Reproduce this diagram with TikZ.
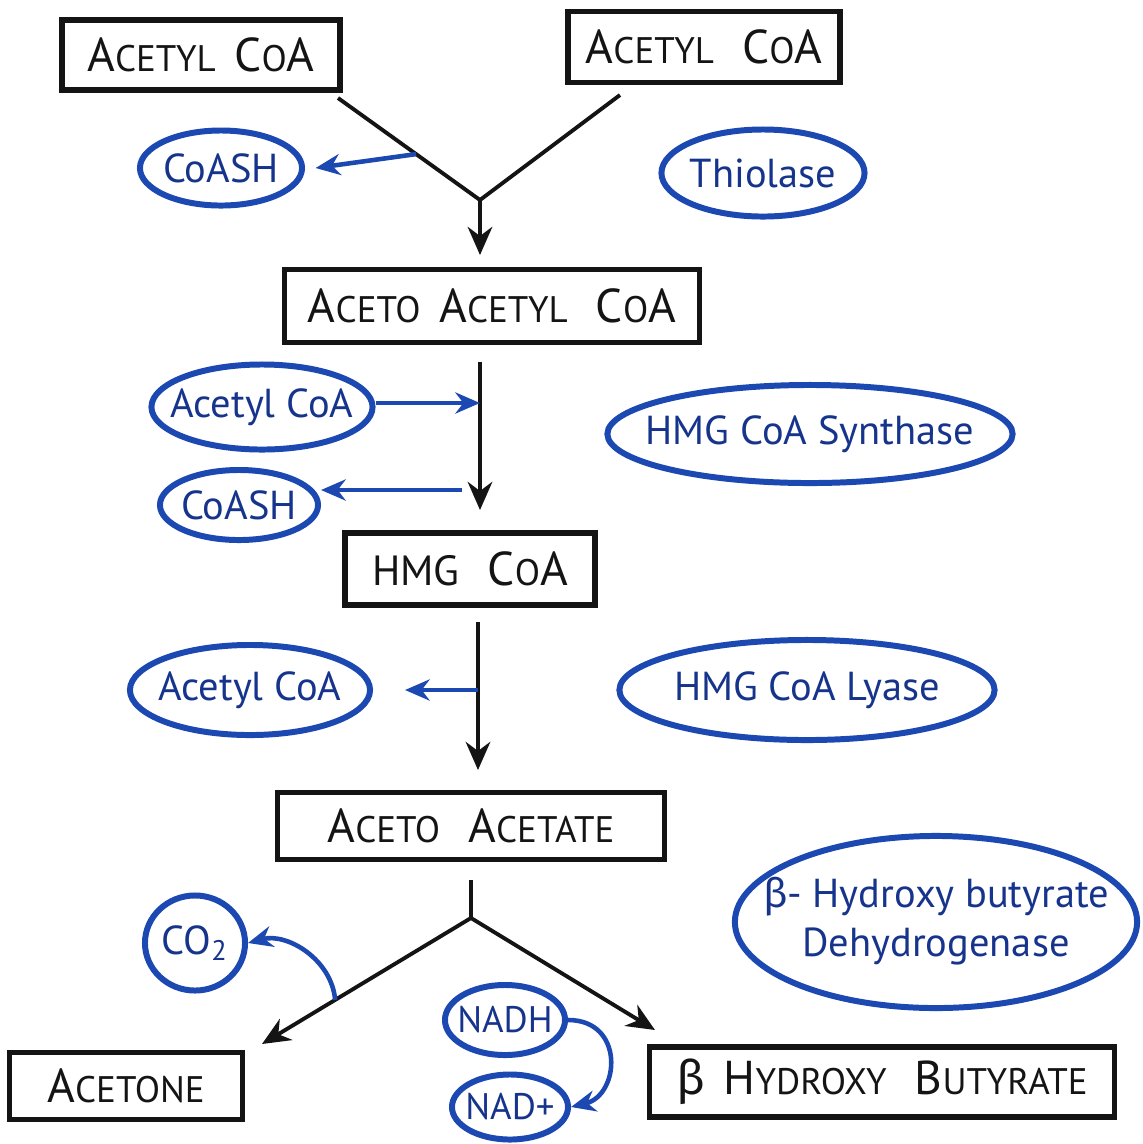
\documentclass[tikz,border=0pt]{standalone}
\usepackage{fontspec}
\setmainfont{PT Sans}
\newfontfamily\grkfont{Fira Sans}
\usetikzlibrary{shapes.geometric,arrows.meta,calc}
\definecolor{inkblue}{RGB}{28,72,178}
\definecolor{txtblue}{RGB}{22,52,140}
\definecolor{inkblack}{RGB}{20,20,20}
% small-caps style lettering: large initial, smaller rest
\newcommand{\Bg}[1]{{\fontsize{13.5}{14}\selectfont #1}}
\newcommand{\Sm}[1]{{\fontsize{10.5}{12}\selectfont #1}}
\newcommand{\Md}[1]{{\fontsize{12}{12}\selectfont #1}}
% zero-width label so the ellipse keeps its given size
\newcommand{\mb}[1]{\makebox[0pt]{#1}}
\begin{document}
\begin{tikzpicture}[x=0.01cm,y=-0.01cm,
  box/.style={draw=inkblack,line width=1.5pt,rectangle,inner sep=0pt,text=inkblack},
  enz/.style={draw=inkblue,line width=1.7pt,ellipse,inner sep=0pt,text=txtblue,
    font=\fontsize{11.5}{14}\selectfont,align=center},
  small/.style={font=\fontsize{10.5}{12}\selectfont},
  flow/.style={draw=inkblack,line width=1.1pt,-{Stealth[length=8pt,width=7pt]}},
  leg/.style={draw=inkblack,line width=1.1pt},
  side/.style={draw=inkblue,line width=1.3pt,-{Stealth[length=7pt,width=6pt]}}]
\useasboundingbox[fill=white] (0,0) rectangle (1143,1144);

% metabolites
\node[box,minimum width=2.78cm,minimum height=0.70cm] (acA) at (201,55)
  {\Bg{A}\Sm{CETYL}\ \ \Bg{C}\Sm{O}\Bg{A}};
\node[box,minimum width=2.72cm,minimum height=0.71cm] (acB) at (704,47)
  {\Bg{A}\Sm{CETYL}\ \ \ \Bg{C}\Sm{O}\Bg{A}};
\node[box,minimum width=4.15cm,minimum height=0.73cm] (aac) at (492,306)
  {\Bg{A}\Sm{CETO}\ \ \Bg{A}\Sm{CETYL}\ \ \ \Bg{C}\Sm{O}\Bg{A}};
\node[box,minimum width=2.50cm,minimum height=0.72cm] (hmg) at (470,569)
  {\Md{HMG}\ \ \ \Bg{C}\Sm{O}\Bg{A}};
\node[box,minimum width=3.87cm,minimum height=0.67cm] (aa) at (471,826)
  {\Bg{A}\Sm{CETO}\ \ \ \Bg{A}\Sm{CETATE}};
\node[box,minimum width=2.33cm,minimum height=0.67cm] (acetone) at (126,1086)
  {\Bg{A}\Sm{CETONE}};
\node[box,minimum width=4.65cm,minimum height=0.70cm] (bhb) at (882,1082)
  {\Bg{\grkfont β}\ \ \Bg{H}\Sm{YDROXY}\ \ \ \Bg{B}\Sm{UTYRATE}};

% cofactors and enzymes
\node[enz,minimum width=1.62cm,minimum height=0.75cm] (coashA) at (221,168) {\mb{CoASH}};
\node[enz,minimum width=2.03cm,minimum height=0.87cm] (thio) at (763,173) {\mb{Thiolase}};
\node[enz,minimum width=2.21cm,minimum height=0.85cm] (acoaB) at (262,407) {\mb{Acetyl CoA}};
\node[enz,minimum width=4.05cm,minimum height=0.98cm] (synth) at (810,434) {\mb{HMG CoA Synthase}};
\node[enz,minimum width=1.58cm,minimum height=0.70cm] (coashB) at (239,505) {\mb{CoASH}};
\node[enz,minimum width=2.40cm,minimum height=0.90cm] (acoaC) at (250,690) {\mb{Acetyl CoA}};
\node[enz,minimum width=3.75cm,minimum height=1.00cm] (lyase) at (807,690) {\mb{HMG CoA Lyase}};
\node[enz,minimum width=4.02cm,minimum height=1.72cm] (dehyd) at (936,922)
  {\mb{\begin{tabular}{@{}c@{}}{\grkfont β}- Hydroxy butyrate\\Dehydrogenase\end{tabular}}};
\node[enz,minimum width=1.00cm,minimum height=0.95cm] (co2) at (195,943) {\mb{CO\textsubscript{2}}};
\node[enz,small,minimum width=1.20cm,minimum height=0.70cm] (nadh) at (505,1020) {\mb{NADH}};
\node[enz,small,minimum width=1.16cm,minimum height=0.65cm] (nadp) at (510,1107) {\mb{NAD+}};

% thiolase step: two acetyl CoA join
\coordinate (lA) at (338,98);
\coordinate (lB) at (620,95);
\coordinate (j1) at (480,200);
\coordinate (e1) at (480,255);
\draw[leg] (lA) -- (j1) -- (lB);
\draw[flow] (j1) -- (e1);
\coordinate (k1) at ($(lA)!0.55!(j1)$);
\draw[side] (k1) -- ([xshift=3pt]coashA.east);

% HMG CoA synthase step
\coordinate (s2) at (480,362);
\coordinate (e2) at (480,510);
\draw[flow] (s2) -- (e2);
\coordinate (k2) at (480,403);
\draw[side] (acoaB.east |- k2) -- (k2);
\coordinate (k3) at (462,490);
\draw[side] (k3) -- (coashB.east |- k3);

% HMG CoA lyase step
\coordinate (s3) at (478,622);
\coordinate (e3) at (478,770);
\draw[flow] (s3) -- (e3);
\coordinate (k4) at (478,690);
\coordinate (k5) at (405,690);
\draw[side] (k4) -- (k5);

% branch to acetone and beta-hydroxybutyrate
\coordinate (s4) at (471,880);
\coordinate (j4) at (471,918);
\coordinate (e4) at (262,1044);
\coordinate (e5) at (655,1030);
\draw[leg] (s4) -- (j4);
\draw[flow] (j4) -- (e4);
\draw[flow] (j4) -- (e5);
\coordinate (k6) at ($(j4)!0.65!(e4)$);
\draw[side] (k6) to[out=95,in=15] (co2.east);
\draw[side] (nadh.east) .. controls (625,1020) and (620,1095) .. (nadp.east);
\end{tikzpicture}
\end{document}
